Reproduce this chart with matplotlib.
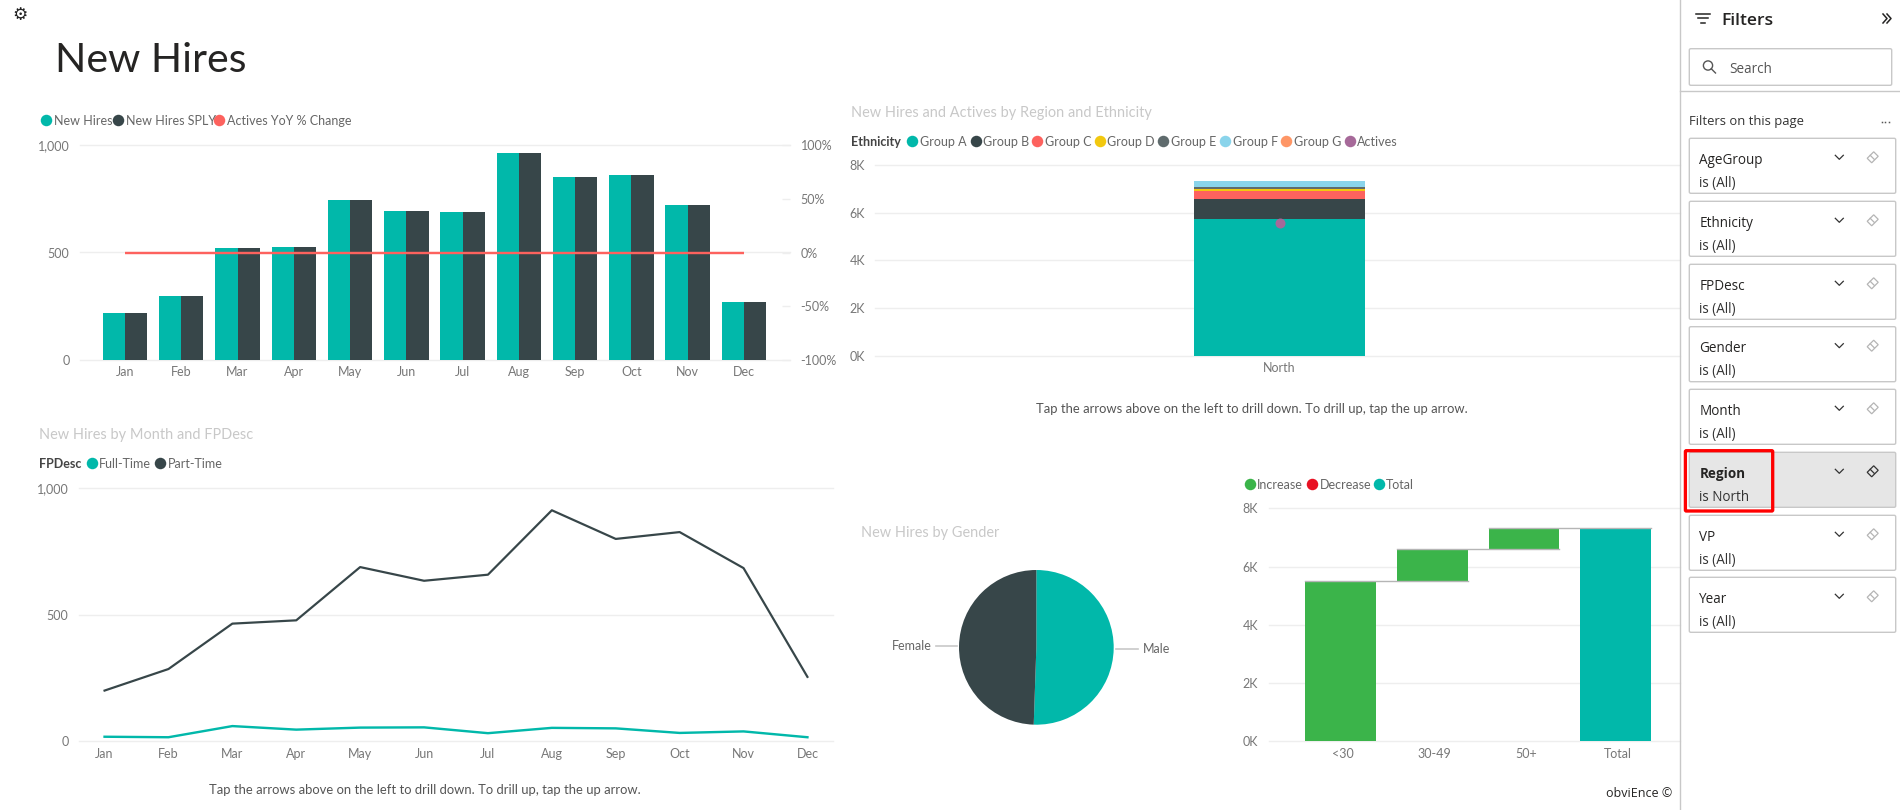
import matplotlib
matplotlib.use("Agg")
import matplotlib.pyplot as plt
from matplotlib.patches import Rectangle, Circle, Polygon, FancyBboxPatch

W, H = 1900, 810
CHART_FONT = "Lato"
PANEL_FONT = "Open Sans"
plt.rcParams["font.family"] = [CHART_FONT, "DejaVu Sans"]

TEAL, DARK, RED = "#01B8AA", "#374649", "#FD625E"
YELLOW, SLATE, SKY, ORANGE, PURPLE = "#F2C80F", "#5F6B6D", "#8AD4EB", "#FE9666", "#A66999"
GREEN, DECREASE = "#3BB44A", "#E81123"
GRID, TICK, LEG, TITLE = "#eeeeee", "#777777", "#666666", "#c8c8c8"

# ---- data ----
months = ["Jan", "Feb", "Mar", "Apr", "May", "Jun", "Jul", "Aug", "Sep", "Oct", "Nov", "Dec"]
new_hires = [217, 298, 521, 524, 743, 691, 688, 961, 850, 859, 719, 271]
new_hires_sply = [217, 298, 521, 524, 743, 691, 688, 961, 850, 859, 719, 271]
actives_yoy = [0, 0, 0, 0, 0, 0, 0, 0, 0, 0, 0, 0]

part_time = [200, 285, 464, 477, 687, 633, 657, 911, 798, 825, 683, 254]
full_time = [18, 16, 60, 46, 54, 55, 32, 53, 51, 33, 39, 16]

region = ["North"]
group_names = ["Group A", "Group B", "Group C", "Group D", "Group E", "Group F", "Group G"]
group_values = [5734, 839, 336, 84, 84, 252, 0]
group_colors = [TEAL, DARK, RED, YELLOW, SLATE, SKY, ORANGE]
actives = [5552]

gender_labels = ["Male", "Female"]
gender_values = [3704, 3625]

age_labels = ["<30", "30-49", "50+", "Total"]
age_increase = [5494, 1121, 710]

filter_names = ["AgeGroup", "Ethnicity", "FPDesc", "Gender", "Month", "Region", "VP", "Year"]
filter_states = ["is (All)", "is (All)", "is (All)", "is (All)", "is (All)", "is North", "is (All)", "is (All)"]
filter_tops = [138.3, 201.3, 264.3, 326.7, 389.3, 452.3, 515.3, 577.3]

fig = plt.figure(figsize=(W / 100, H / 100), dpi=100, facecolor="white")


def axes_px(x0, y0, x1, y1, **kw):
    return fig.add_axes([x0 / W, 1 - y1 / H, (x1 - x0) / W, (y1 - y0) / H], **kw)


def pt(px):
    return px * 0.72


def style(ax, pad_y=7.6, pad_x=4.5, size=12.5):
    for s in ax.spines.values():
        s.set_visible(False)
    ax.set_facecolor("none")
    ax.set_axisbelow(True)
    ax.grid(axis="y", color=GRID, lw=1.0)
    ax.tick_params(axis="y", length=0, pad=pad_y, labelsize=pt(size), labelcolor=TICK)
    ax.tick_params(axis="x", length=0, pad=pad_x, labelsize=pt(size), labelcolor=TICK)
    for g in ax.get_ygridlines():
        g.set_clip_on(False)


# ---- chart 1 : clustered columns + line ----
ax1 = axes_px(80, 145, 790, 360)
xs = list(range(len(months)))
bw = 0.395
ax1.bar([x - bw / 2 for x in xs], new_hires, bw, color=TEAL)
ax1.bar([x + bw / 2 for x in xs], new_hires_sply, bw, color=DARK)
ax1.set_xlim(-0.8, 11.82)
ax1.set_ylim(0, 1000)
ax1.set_yticks([0, 500, 1000], ["0", "500", "1,000"])
ax1.set_xticks(xs, months)
style(ax1)
ax1b = ax1.twinx()
ax1b.plot(xs, actives_yoy, color=RED, lw=pt(2.4), solid_capstyle="butt")
ax1b.set_ylim(-1, 1)
ax1b.set_yticks([-1, -0.5, 0, 0.5, 1], ["-100%", "-50%", "0%", "50%", "100%"])
for s in ax1b.spines.values():
    s.set_visible(False)
ax1b.tick_params(axis="y", direction="in", length=pt(8), width=1, color=GRID, pad=7.7,
                 labelsize=pt(12.5), labelcolor=TICK)

# ---- chart 2 : stacked column with marker ----
ax2 = axes_px(875, 165, 1680, 355.7)
bottom = 0
for val, col in zip(group_values, group_colors):
    ax2.bar(region, [val], 0.2124, bottom=bottom, color=col)
    bottom += val
ax2.plot(region, actives, "o", color=PURPLE, ms=pt(10), mew=0)
ax2.set_xlim(-0.5025, 0.4975)
ax2.set_ylim(0, 8000)
ax2.set_yticks([0, 2000, 4000, 6000, 8000], ["0K", "2K", "4K", "6K", "8K"])
style(ax2, pad_y=7.2)

# ---- chart 3 : lines ----
ax3 = axes_px(79, 487.7, 833, 741.3)
ax3.plot(xs, part_time, color=DARK, lw=pt(2.2))
ax3.plot(xs, full_time, color=TEAL, lw=pt(2.4))
ax3.set_xlim(-0.40, 11.40)
ax3.set_ylim(0, 1000)
ax3.set_yticks([0, 500, 1000], ["0", "500", "1,000"])
ax3.set_xticks(xs, months)
style(ax3)

# ---- chart 4 : pie ----
ax4 = axes_px(959, 569.7, 1113.7, 725)
ax4.pie(gender_values, colors=[TEAL, DARK], startangle=90, counterclock=False, radius=1.0)
ax4.set_xlim(-1, 1)
ax4.set_ylim(-1, 1)

# ---- chart 5 : waterfall ----
ax5 = axes_px(1268.6, 508.3, 1680, 741.3)
wf_w = 0.77
running = 0
levels = []
for i, d in enumerate(age_increase):
    ax5.bar(i, d, wf_w, bottom=running, color=GREEN)
    running += d
    levels.append(running)
total_pos = len(age_increase)
ax5.bar(total_pos, running, wf_w, color=TEAL)
for i, lv in enumerate(levels):
    ax5.plot([i - wf_w / 2, i + 1 + wf_w / 2], [lv, lv], color="#b5b5b5", lw=1.0, zorder=4)
ax5.set_xlim(-0.782, 3.70)
ax5.set_ylim(0, 8000)
ax5.set_yticks([0, 2000, 4000, 6000, 8000], ["0K", "2K", "4K", "6K", "8K"])
ax5.set_xticks([i + 0.025 for i in range(len(age_labels))], age_labels)
style(ax5, pad_y=7.5)

# ---- overlay in pixel coordinates ----
ov = fig.add_axes([0, 0, 1, 1], zorder=10)
ov.set_xlim(0, W)
ov.set_ylim(H, 0)
ov.axis("off")
ov.patch.set_alpha(0)


def T(x, y, s, px=12.5, color=LEG, ha="left", weight="normal", family=CHART_FONT):
    ov.text(x, y, s, fontsize=pt(px), color=color, ha=ha, va="center_baseline",
            fontweight=weight, family=[family, "DejaVu Sans"])


def dot(x, y, c):
    ov.plot([x], [y], "o", color=c, ms=pt(11.5), mew=0)


def legend(y, items):
    for mx, tx, label, c in items:
        dot(mx, y, c)
        T(tx, y, label)


T(55, 57, "New Hires", px=41, color="#252423", family=CHART_FONT)
ov.text(20, 15, "\u2699", fontsize=pt(17), color="#222222", ha="center", va="center",
        family="DejaVu Sans", fontweight="bold")

legend(120, [(46, 53.7, "New Hires", TEAL), (118, 126, "New Hires SPLY", DARK),
             (219, 227, "Actives YoY % Change", RED)])

T(851, 112, "New Hires and Actives by Region and Ethnicity", px=14.5, color=TITLE)
T(851, 140.7, "Ethnicity", weight="bold", color="#444444")
leg2_m = [912, 975.5, 1037, 1100, 1163, 1225, 1286]
leg2_t = [920, 983, 1045, 1107, 1171, 1233, 1294]
legend(140.7, [(m, t, n, c) for m, t, n, c in zip(leg2_m, leg2_t, group_names, group_colors)])
legend(140.7, [(1349.5, 1357, "Actives", PURPLE)])
T(1251.7, 407.7, "Tap the arrows above on the left to drill down. To drill up, tap the up arrow.",
  px=13, color="#555555", ha="center")

T(39, 433, "New Hires by Month and FPDesc", px=14.5, color=TITLE)
T(39, 462.7, "FPDesc", weight="bold", color="#444444")
legend(462.7, [(92, 99, "Full-Time", TEAL), (160, 167.5, "Part-Time", DARK)])
T(425, 788.7, "Tap the arrows above on the left to drill down. To drill up, tap the up arrow.",
  px=13, color="#555555", ha="center")

T(861.4, 531, "New Hires by Gender", px=14.5, color=TITLE)
T(931.6, 644.7, "Female", ha="right", color="#666666")
ov.plot([936, 957], [646, 646], color="#c8c8c8", lw=1.2)
T(1142.7, 647.7, "Male", color="#666666")
ov.plot([1116.4, 1138], [649, 649], color="#c8c8c8", lw=1.2)

legend(483.7, [(1249.8, 1257.3, "Increase", GREEN), (1312, 1319.5, "Decrease", DECREASE),
               (1379, 1386, "Total", TEAL)])
T(1672, 792, "obviEnce \u00a9", px=12.5, color="#252423", ha="right", family=PANEL_FONT)

# ---- filter panel ----
BORDER = "#c8c8c8"
ov.plot([1679.7, 1679.7], [0, H], color=BORDER, lw=1.0)
ov.plot([1680, W], [91.3, 91.3], color=BORDER, lw=1.0)
for y, x0, x1 in [(13.7, 1695.7, 1710), (18.3, 1698.2, 1707.5), (23, 1700.7, 1705)]:
    ov.plot([x0, x1], [y, y], color="#252423", lw=1.1)
T(1721, 18.7, "Filters", px=17.5, color="#252423", weight="semibold", family=PANEL_FONT)
for dx in (0, 4):
    ov.plot([1883 + dx, 1887 + dx, 1883 + dx], [14, 18.5, 23], color="#252423", lw=1.1)

ov.add_patch(FancyBboxPatch((1689.3, 48.7), 202.4, 36.6, boxstyle="round,pad=0,rounding_size=1.5",
                            fc="white", ec=BORDER, lw=1.0))
ov.add_patch(Circle((1708, 65.5), 4.6, fc="none", ec="#555555", lw=1.0))
ov.plot([1711.3, 1715.5], [68.8, 73], color="#555555", lw=1.0)
T(1729.3, 67.5, "Search", px=13.5, color="#555555", family=PANEL_FONT)
T(1689.3, 120.5, "Filters on this page", px=13, color="#333333", family=PANEL_FONT)
for dx in (-3.5, 0, 3.5):
    ov.plot([1885 + dx], [122], "s", color="#555555", ms=1.1, mew=0)

for name, state, top in zip(filter_names, filter_states, filter_tops):
    active = state != "is (All)"
    ov.add_patch(FancyBboxPatch((1689.3, top), 206.4, 55, boxstyle="round,pad=0,rounding_size=1.5",
                                fc="#e6e6e6" if active else "white", ec=BORDER, lw=1.0))
    T(1699.3, top + 20, name, px=13.5, color="#252423", weight="bold" if active else "normal",
      family=PANEL_FONT)
    T(1699.3, top + 43, state, px=13.5, color="#333333", family=PANEL_FONT)
    ov.plot([1835.3, 1839.3, 1843.3], [top + 17, top + 21, top + 17], color="#333333", lw=0.9)
    cx, cy = 1872.7, top + 19
    ec = "#333333" if active else "#b5b5b5"
    ov.add_patch(Polygon([(cx - 5.5, cy + 1), (cx + 1, cy - 5.5), (cx + 5.5, cy - 1), (cx - 1, cy + 5.5)],
                         closed=True, fc="none", ec=ec, lw=0.9))
    ov.plot([cx - 2.5, cx + 1.5], [cy - 2, cy + 2], color=ec, lw=0.9)

ov.add_patch(FancyBboxPatch((1685.4, 450.7), 87.3, 60.3, boxstyle="round,pad=0,rounding_size=1",
                            fc="none", ec="#ff0000", lw=pt(3.3)))

fig.savefig("out.png", dpi=100, facecolor="white")
